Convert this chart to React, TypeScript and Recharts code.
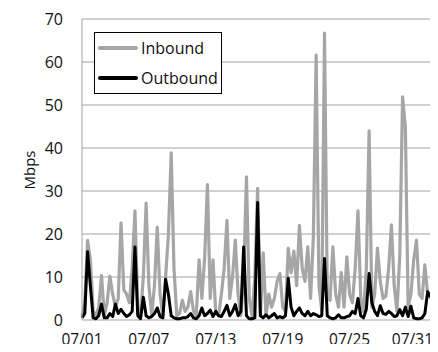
import React from 'react';
import { LineChart, Line, XAxis, YAxis, CartesianGrid, Label } from 'recharts';

// four samples per day, 07/01 00:00 onward
const inbound = [
  1, 4, 18.5, 14, 2, 1, 3, 10.3, 1, 4,
  10.2, 6, 3, 5, 22.6, 7, 6, 4, 12, 25.4,
  3, 1, 10, 27.2, 8, 1, 8, 21.6, 6, 1,
  10, 20, 38.9, 12, 1, 1.5, 4.6, 2, 3, 6.6,
  2, 1, 14, 5, 14.5, 31.5, 5, 14, 1.5, 1,
  6, 12, 23.2, 5, 10, 18.6, 6, 1, 10, 33.3,
  5, 1, 10, 30.6, 1, 15.6, 1, 6, 3, 5,
  9, 10.8, 3, 2, 16.7, 11, 16, 8, 22, 12,
  9, 17, 5, 19.4, 61.6, 8, 2.3, 66.7, 5, 4.6,
  17, 6, 3, 11, 3, 14.7, 6, 4, 12, 25.4,
  5, 2, 12, 44, 3, 6, 16.7, 9, 5, 5.5,
  12, 22.1, 8, 2, 15, 51.9, 45, 3, 6, 14,
  18.6, 6, 5, 12.8, 6, 5,
];

const outbound = [
  0.5, 1.5, 15.9, 8, 0.5, 0.3, 1, 3.7, 0.5, 0.5,
  1.5, 0.8, 3.7, 1.5, 2.5, 1.5, 0.8, 1.2, 2, 17,
  1, 0.3, 5.3, 1, 0.5, 0.8, 1.5, 2.8, 0.8, 0.5,
  9.5, 6, 1, 0.5, 0.3, 0.3, 0.5, 0.5, 0.8, 1.5,
  0.5, 0.3, 1, 2.8, 1, 1.5, 2.3, 0.8, 2, 1,
  0.8, 2, 3.4, 1, 2, 3.6, 1, 2, 17, 1,
  0.3, 0.3, 0.5, 27.3, 1, 0.5, 1.2, 0.5, 1, 1.5,
  0.5, 0.8, 0.5, 1, 9.7, 3, 1, 2, 2.8, 1.5,
  1, 2, 1, 1.5, 1.2, 0.8, 1, 14.3, 1, 0.5,
  0.3, 0.5, 1.2, 0.5, 0.5, 0.8, 1, 2, 1.5, 5,
  1, 0.5, 2.5, 10.8, 4, 2, 1, 3.3, 1.5, 1.3,
  2, 1.5, 0.8, 1, 2.4, 1, 3, 0.8, 3.2, 0.5,
  0.3, 0.3, 0.5, 1.5, 6.6, 5.4,
];

const dateTicks = [0, 6, 12, 18, 24, 30];
const dateLabels = ['07/01', '07/07', '07/13', '07/19', '07/25', '07/31'];
const yTicks = [0, 10, 20, 30, 40, 50, 60, 70];

const data = inbound.map((v, i) => ({ t: i / 4, inbound: v, outbound: outbound[i] }));

const FONT = '"Open Sans", sans-serif';
const GRID = '#a3a3a3';
const IN_COLOR = '#a6a6a6';
const OUT_COLOR = '#000000';
const CHART_W = 430;

// keeps the last date label inside the picture, like the original does
function DateTick(props: any) {
  const { x, y, payload } = props;
  const text = dateLabels[dateTicks.indexOf(payload.value)];
  const half = 21;
  const limit = CHART_W - 5;
  const overflow = x + half > limit;
  return (
    <text
      x={overflow ? limit : x}
      y={y}
      dy="0.71em"
      textAnchor={overflow ? 'end' : 'middle'}
      fontSize={15.5}
      fill="#111"
      fontFamily={FONT}
    >
      {text}
    </text>
  );
}

function ChartLegend() {
  const row = (color: string, text: string, top: number) => (
    <div style={{ position: 'absolute', left: 3, top, height: 24, width: 124 }}>
      <div style={{ position: 'absolute', left: 0, top: 10, width: 40, height: 4, background: color, borderRadius: 2 }} />
      <span style={{ position: 'absolute', left: 43, top: 0, lineHeight: '24px', fontSize: 16, color: '#111' }}>{text}</span>
    </div>
  );
  return (
    <div
      style={{
        position: 'absolute', left: 86, top: 24, width: 126, height: 60,
        border: '1px solid #000', background: '#fff', fontFamily: FONT,
      }}
    >
      {row(IN_COLOR, 'Inbound', 3)}
      {row(OUT_COLOR, 'Outbound', 33)}
    </div>
  );
}

export default function App() {
  return (
    <div style={{ position: 'relative', width: CHART_W, height: 344, marginBottom: -8, fontFamily: FONT }}>
      <LineChart width={CHART_W} height={344} data={data} margin={{ top: 11, right: 7, bottom: 2, left: 0 }}>
        <CartesianGrid horizontal vertical={false} stroke={GRID} />
        <XAxis
          type="number"
          dataKey="t"
          domain={[0, 31.3]}
          ticks={dateTicks}
          axisLine={false}
          tickLine={false}
          tickSize={0}
          tickMargin={14}
          height={30}
          interval={0}
          tick={<DateTick />}
        />
        <YAxis
          domain={[0, 70]}
          ticks={yTicks}
          width={74}
          axisLine={{ stroke: GRID }}
          tickLine={false}
          tickSize={0}
          tickMargin={19}
          interval={0}
          tick={{ fontSize: 16, fill: '#111', fontFamily: FONT }}
        >
          <Label
            content={() => (
              <text
                x={21}
                y={162}
                transform="rotate(-90 21 162)"
                textAnchor="middle"
                dominantBaseline="central"
                fontSize={15}
                fill="#111"
                fontFamily={FONT}
              >
                Mbps
              </text>
            )}
          />
        </YAxis>
        <Line
          type="linear"
          dataKey="inbound"
          stroke={IN_COLOR}
          strokeWidth={3.2}
          dot={false}
          strokeLinejoin="round"
          isAnimationActive={false}
        />
        <Line
          type="linear"
          dataKey="outbound"
          stroke={OUT_COLOR}
          strokeWidth={3}
          dot={false}
          strokeLinejoin="round"
          isAnimationActive={false}
        />
      </LineChart>
      <ChartLegend />
    </div>
  );
}
